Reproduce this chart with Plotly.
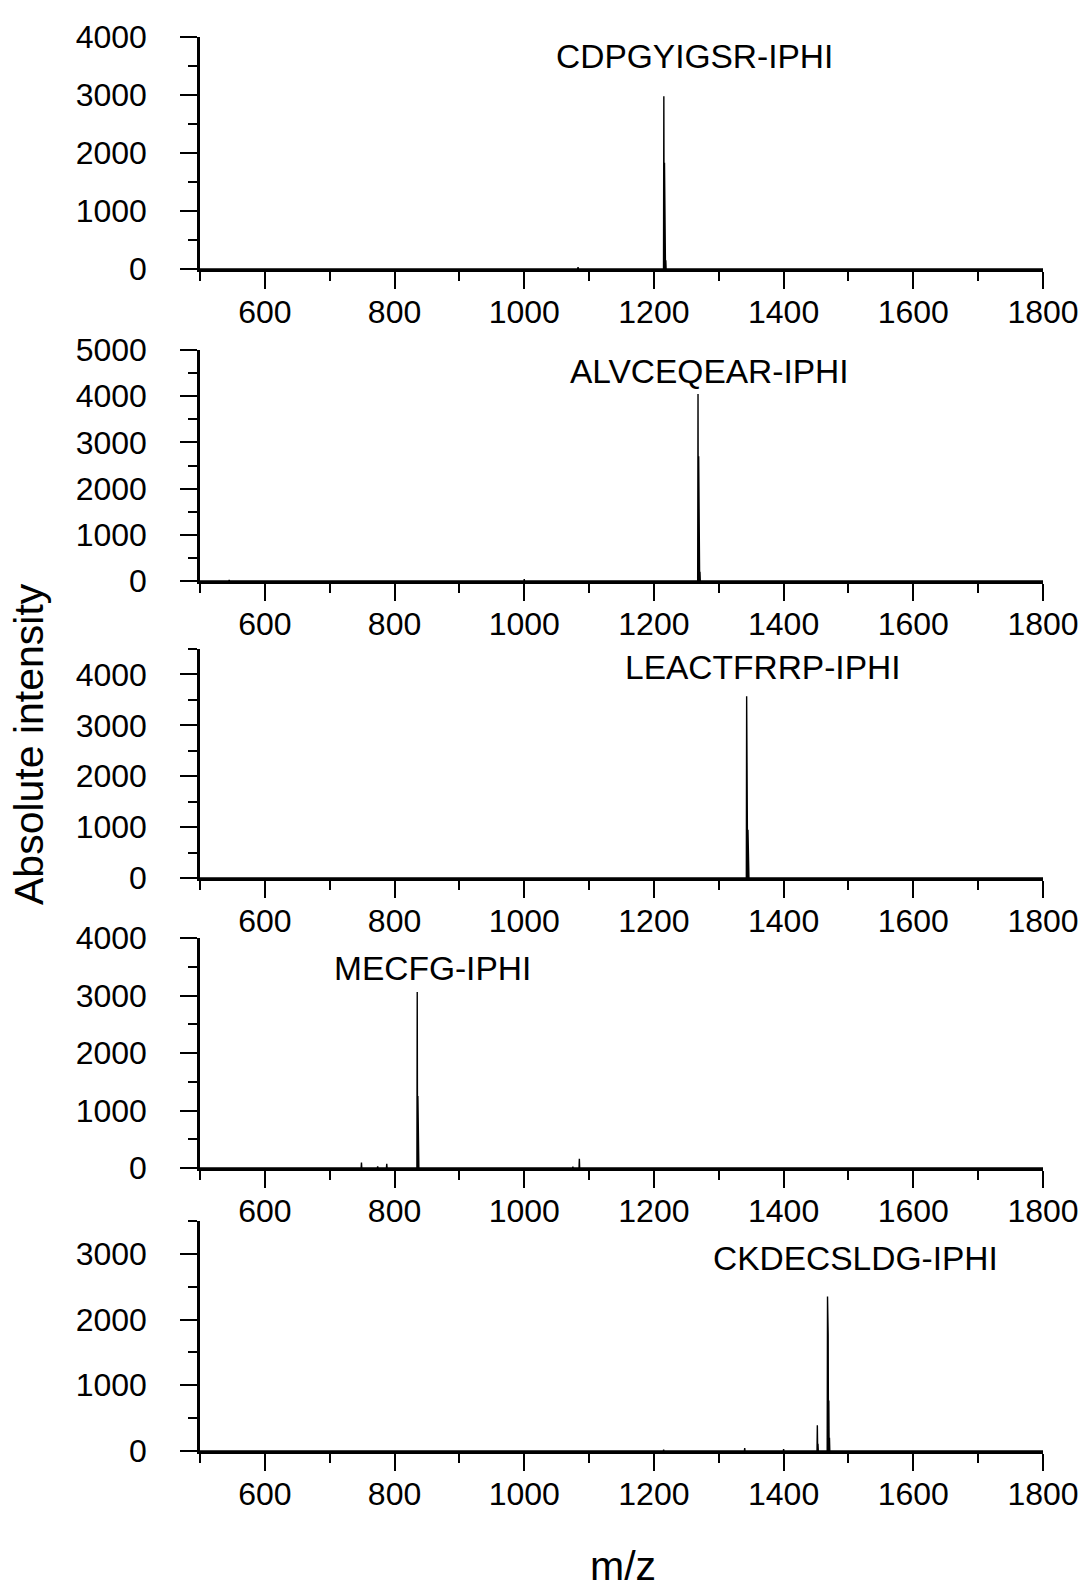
import plotly.graph_objects as go

# ---------------- data ----------------
labels = ["CDPGYIGSR-IPHI", "ALVCEQEAR-IPHI", "LEACTFRRP-IPHI", "MECFG-IPHI", "CKDECSLDG-IPHI"]

mz1 = [500, 1082.3, 1083.0, 1083.7, 1214.8, 1215.3, 1215.8, 1216.3, 1216.8, 1217.3, 1217.8, 1218.3, 1218.8, 1800]
in1 = [0, 0, 30, 0, 0, 2980, 0, 1830, 0, 620, 0, 150, 0, 0]

mz2 = [500, 544.5, 545, 545.5, 999.5, 1000, 1000.5, 1267.5, 1268, 1268.5, 1269, 1269.5, 1270, 1270.5, 1271, 1271.5, 1800]
in2 = [0, 0, 25, 0, 0, 40, 0, 0, 4050, 0, 2700, 0, 840, 0, 200, 0, 0]

mz3 = [500, 1342.5, 1343, 1343.5, 1344, 1344.5, 1345, 1345.5, 1346, 1346.5, 1800]
in3 = [0, 0, 3570, 0, 2680, 0, 950, 0, 160, 0, 0]

mz4 = [500, 748.5, 749, 749.5, 773.5, 774, 774.5, 787.5, 788, 788.5, 834.5, 835, 835.5, 836, 836.5,
       837, 837.5, 1074.5, 1075, 1075.5, 1084.5, 1085, 1085.5, 1800]
in4 = [0, 0, 95, 0, 0, 30, 0, 0, 75, 0, 0, 3060, 0, 1250, 0, 140, 0, 0, 25, 0, 0, 160, 0, 0]

mz5 = [500, 1214.5, 1215, 1215.5, 1339.5, 1340, 1340.5, 1399.5, 1400, 1400.5, 1451.5, 1452, 1452.5,
       1453, 1453.5, 1467.2, 1467.7, 1468.2, 1468.7, 1469.2, 1469.7, 1470.2, 1470.7, 1471.2, 1800]
in5 = [0, 0, 20, 0, 0, 45, 0, 0, 30, 0, 0, 390, 0, 110, 0, 0, 2350, 0, 1760, 0, 770, 0, 200, 0, 0]

y_max = [4000, 5000, 4500, 4000, 3500]
x_ticks = [600, 800, 1000, 1200, 1400, 1600, 1800]

spectra = [(mz1, in1), (mz2, in2), (mz3, in3), (mz4, in4), (mz5, in5)]

# ---------------- layout ----------------
W, H = 1086, 1589
x_left, x_right = 200, 1043
panel_px = [(37, 269), (350, 581), (649, 878), (938, 1168), (1221, 1451)]  # (top, bottom) pixels
label_pos = [(1262, 3672), (1286, 4545), (1368, 4137), (858, 3478), (1511, 2924)]

FONT = "Liberation Sans, Arial, sans-serif"

fig = go.Figure()
layout = dict(
    width=W, height=H,
    margin=dict(l=0, r=0, t=0, b=0, pad=0),
    paper_bgcolor="white", plot_bgcolor="white",
    showlegend=False,
    font=dict(family=FONT, color="black"),
    annotations=[],
)

for i, ((mz, inten), (top, bot)) in enumerate(zip(spectra, panel_px)):
    n = i + 1
    xa = "x" if n == 1 else f"x{n}"
    ya = "y" if n == 1 else f"y{n}"
    fig.add_trace(go.Scatter(x=mz, y=inten, mode="lines", xaxis=xa, yaxis=ya,
                             line=dict(color="black", width=1.4), hoverinfo="skip"))
    layout["xaxis" if n == 1 else f"xaxis{n}"] = dict(
        domain=[x_left / W, x_right / W], anchor=ya, range=[500, 1800],
        automargin=False,
        tickmode="array", tickvals=x_ticks, ticktext=[str(v) for v in x_ticks],
        ticks="outside", ticklen=17, tickwidth=2, tickcolor="black",
        showline=True, linewidth=2.5, linecolor="black",
        showgrid=False, zeroline=False,
        tickfont=dict(size=32, family=FONT, color="black"),
        ticklabelstandoff=-4,
        minor=dict(ticks="outside", ticklen=9, tickwidth=2, tickcolor="black",
                   tick0=500, dtick=100, showgrid=False),
    )
    layout["yaxis" if n == 1 else f"yaxis{n}"] = dict(
        domain=[1 - bot / H, 1 - top / H], anchor=xa, range=[0, y_max[i]],
        automargin=False,
        tick0=0, dtick=1000,
        ticks="outside", ticklen=17, tickwidth=2, tickcolor="black",
        showline=True, linewidth=2.5, linecolor="black",
        showgrid=False, zeroline=False,
        tickfont=dict(size=32, family=FONT, color="black"),
        ticklabelstandoff=27,
        minor=dict(ticks="outside", ticklen=9, tickwidth=2, tickcolor="black",
                   tick0=0, dtick=500, showgrid=False),
    )
    lx, ly = label_pos[i]
    layout["annotations"].append(dict(
        text=labels[i], x=lx, y=ly, xref=xa, yref=ya, showarrow=False,
        xanchor="center", yanchor="middle",
        font=dict(size=33.5, family=FONT, color="black"),
    ))

layout["annotations"].append(dict(
    text="Absolute intensity", x=29 / W, y=1 - 744 / H, xref="paper", yref="paper",
    showarrow=False, textangle=-90, xanchor="center", yanchor="middle",
    font=dict(size=41, family=FONT, color="black"),
))
layout["annotations"].append(dict(
    text="m/z", x=623 / W, y=1 - 1566 / H, xref="paper", yref="paper",
    showarrow=False, xanchor="center", yanchor="middle",
    font=dict(size=41, family=FONT, color="black"),
))

fig.update_layout(**layout)
fig.write_html("out.html")
